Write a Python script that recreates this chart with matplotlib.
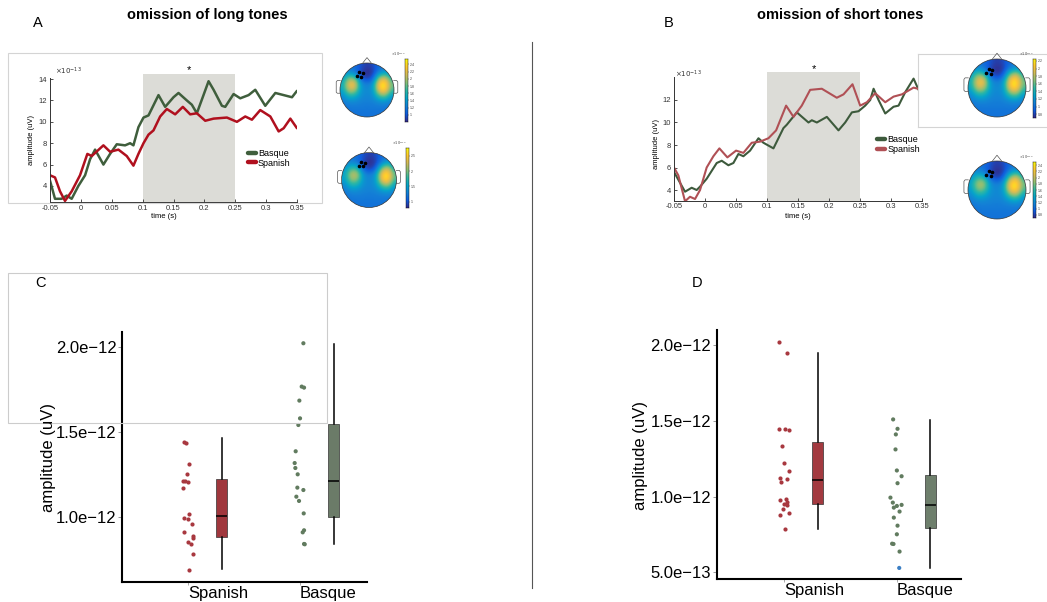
import matplotlib
matplotlib.use("Agg")
import matplotlib.pyplot as plt
import numpy as np
from matplotlib.colors import LinearSegmentedColormap
from matplotlib.patches import Circle, Rectangle
from matplotlib.lines import Line2D

plt.rcParams['font.family'] = ['Liberation Sans', 'DejaVu Sans']
plt.rcParams['mathtext.fontset'] = 'dejavusans'

W, H = 1047, 602

# ---- ERP waveforms (x10^-13) ----
A_BASQUE_T = [-0.05, -0.0419, -0.0311, -0.023, -0.0149, -0.0041, 0.0068, 0.0149, 0.023, 0.0365,
              0.0473, 0.0581, 0.0716, 0.0797, 0.0851, 0.0932, 0.1014, 0.1095, 0.1257, 0.1365,
              0.15, 0.1581, 0.1716, 0.1797, 0.1878, 0.1986, 0.2068, 0.2149, 0.2284, 0.2338,
              0.2473, 0.2581, 0.2716, 0.2824, 0.2986, 0.3149, 0.3284, 0.3419, 0.35]
A_BASQUE_V = [4.5, 2.8, 2.8, 3.1, 2.8, 4.0, 5.0, 6.5, 7.4, 6.0,
              7.0, 7.9, 7.8, 8.0, 7.8, 9.5, 10.4, 10.6, 12.5, 11.4,
              12.3, 12.7, 12.0, 11.6, 10.8, 12.5, 13.8, 13.0, 11.5, 11.4,
              12.6, 12.2, 12.5, 13.0, 11.5, 12.7, 12.5, 12.3, 12.9]
A_SPANISH_T = [-0.05, -0.0419, -0.0338, -0.0257, -0.0149, -0.0014, 0.0105, 0.0176, 0.0365, 0.0473,
               0.0608, 0.0743, 0.0851, 0.0932, 0.1014, 0.1095, 0.1176, 0.1284, 0.1392, 0.1527,
               0.1651, 0.177, 0.1878, 0.2014, 0.2149, 0.2365, 0.2527, 0.2662, 0.277, 0.2905,
               0.3068, 0.3203, 0.3284, 0.3392, 0.35]
A_SPANISH_V = [5.0, 4.8, 3.5, 2.6, 3.5, 5.0, 7.0, 6.8, 7.8, 7.2,
               7.4, 6.8, 5.9, 7.0, 8.0, 8.8, 9.2, 10.5, 11.2, 10.7,
               11.4, 10.7, 10.8, 10.1, 10.3, 10.4, 10.0, 10.5, 10.2, 11.1,
               10.5, 9.1, 9.4, 10.3, 9.4]

B_BASQUE_T = [-0.05, -0.0322, -0.0215, -0.0134, -0.008, 0.0027, 0.0189, 0.027, 0.0377, 0.0458,
              0.0539, 0.0619, 0.0727, 0.0862, 0.0942, 0.1104, 0.1265, 0.1319, 0.1481, 0.1669,
              0.1723, 0.1804, 0.1965, 0.2153, 0.2261, 0.2369, 0.2476, 0.2584, 0.2665, 0.2719,
              0.2799, 0.2907, 0.3041, 0.3122, 0.323, 0.3364, 0.3445, 0.35]
B_BASQUE_V = [5.6, 3.85, 4.2, 4.0, 4.3, 5.0, 6.4, 6.6, 6.2, 6.4,
              7.2, 7.0, 7.5, 8.6, 8.2, 7.7, 9.5, 9.8, 10.9, 10.0,
              10.2, 10.0, 10.5, 9.3, 10.0, 10.9, 11.0, 11.5, 12.0, 13.0,
              12.0, 10.8, 11.4, 11.5, 12.7, 13.9, 12.9, 12.6]
B_SPANISH_T = [-0.05, -0.043, -0.0322, -0.0242, -0.0161, -0.008, 0.0027, 0.0135, 0.0232, 0.0361,
               0.0501, 0.0619, 0.0754, 0.0889, 0.1023, 0.1147, 0.1308, 0.1427, 0.1561, 0.1696,
               0.1884, 0.2126, 0.2234, 0.2379, 0.2503, 0.2611, 0.2745, 0.2907, 0.3041, 0.3176,
               0.3364, 0.35]
B_SPANISH_V = [6.0, 5.3, 3.0, 3.4, 3.2, 4.0, 6.0, 7.0, 7.7, 6.9,
               7.5, 7.3, 8.2, 8.3, 8.6, 9.3, 11.5, 10.5, 11.5, 12.9,
               13.0, 12.2, 12.5, 13.4, 11.5, 11.8, 12.6, 11.8, 12.3, 12.5,
               13.1, 12.9]

# ---- individual amplitudes (x1e-12) and jitter ----
C_SPANISH = [1.439, 1.435, 1.314, 1.254, 1.215, 1.211, 1.209, 1.170, 1.021, 0.994,
             0.990, 0.959, 0.916, 0.893, 0.881, 0.854, 0.844, 0.783, 0.693]
C_SPANISH_JIT = [-0.036, -0.024, 0.003, -0.012, -0.045, -0.027, 0.0, -0.045, 0.006, -0.036,
                 -0.006, 0.033, -0.036, 0.045, 0.042, 0.0, 0.021, 0.045, 0.003]
C_BASQUE = [2.02, 1.766, 1.760, 1.684, 1.580, 1.541, 1.387, 1.318, 1.289, 1.252,
            1.174, 1.160, 1.121, 1.096, 1.023, 0.924, 0.912, 0.844, 0.842]
C_BASQUE_JIT = [0.03, 0.015, 0.036, -0.006, 0.0, -0.015, -0.039, -0.048, -0.042, -0.021,
                -0.024, 0.03, -0.033, -0.009, 0.033, 0.036, 0.024, 0.036, 0.042]
D_SPANISH = [2.022, 1.949, 1.445, 1.445, 1.441, 1.333, 1.220, 1.167, 1.123, 1.117,
             1.097, 0.985, 0.974, 0.963, 0.954, 0.943, 0.916, 0.894, 0.879, 0.786]
D_SPANISH_JIT = [-0.048, 0.024, -0.042, 0.009, 0.045, -0.018, 0.0, 0.042, -0.036, 0.03,
                 -0.027, 0.015, -0.036, 0.03, 0.0, 0.024, -0.006, 0.042, -0.036, 0.009]
D_BASQUE = [1.509, 1.447, 1.410, 1.311, 1.172, 1.134, 1.088, 0.993, 0.960, 0.945,
            0.938, 0.927, 0.901, 0.861, 0.808, 0.751, 0.689, 0.687, 0.637, 0.529]
D_BASQUE_JIT = [-0.03, 0.009, -0.006, -0.009, 0.003, 0.045, 0.009, -0.054, -0.033, 0.045,
                0.003, -0.024, 0.027, -0.024, 0.009, 0.003, -0.039, -0.027, 0.027, 0.024]

# box stats (whislo, q1, med, q3, whishi), x1e-12
C_SPANISH_BOX = [0.695, 0.887, 1.008, 1.223, 1.463]
C_BASQUE_BOX = [0.844, 1.000, 1.213, 1.549, 2.016]
D_SPANISH_BOX = [0.786, 0.954, 1.106, 1.357, 1.949]
D_BASQUE_BOX = [0.529, 0.793, 0.941, 1.145, 1.504]

GROUPS = ["Spanish", "Basque"]

# ---- topographies: relative level of the colour range (0 = bottom, 1 = top),
# 9x9 grid, rows front -> back, columns left -> right ----
TOPO_A1 = [[.20, .20, .18, .10, .04, .08, .18, .20, .20],
           [.24, .30, .22, .05, .00, .03, .25, .35, .25],
           [.35, .62, .58, .12, .03, .12, .65, .80, .45],
           [.42, .86, .86, .32, .24, .32, .92, 1.0, .60],
           [.38, .74, .70, .32, .27, .32, .85, .95, .52],
           [.28, .45, .42, .29, .27, .29, .52, .60, .35],
           [.22, .27, .27, .25, .24, .25, .28, .30, .24],
           [.20, .21, .22, .22, .22, .22, .22, .21, .20],
           [.20, .20, .20, .20, .20, .20, .20, .20, .20]]
TOPO_A2 = [[.20, .20, .18, .10, .04, .08, .18, .20, .20],
           [.23, .27, .22, .05, .00, .03, .24, .35, .25],
           [.32, .52, .48, .12, .03, .12, .60, .78, .42],
           [.38, .75, .75, .30, .24, .32, .90, 1.0, .58],
           [.34, .64, .60, .30, .27, .32, .82, .95, .50],
           [.26, .40, .38, .28, .27, .29, .48, .58, .33],
           [.21, .26, .26, .25, .24, .25, .27, .30, .24],
           [.20, .21, .22, .22, .22, .22, .22, .21, .20],
           [.20, .20, .20, .20, .20, .20, .20, .20, .20]]
TOPO_B1 = [[.20, .20, .18, .10, .04, .08, .18, .20, .20],
           [.24, .30, .22, .05, .00, .03, .25, .35, .25],
           [.36, .65, .60, .12, .03, .12, .65, .82, .45],
           [.42, .88, .86, .32, .24, .32, .92, 1.0, .60],
           [.38, .76, .72, .32, .27, .32, .86, .96, .52],
           [.28, .46, .44, .29, .27, .29, .54, .62, .35],
           [.22, .27, .27, .25, .24, .25, .28, .30, .24],
           [.20, .21, .22, .22, .22, .22, .22, .21, .20],
           [.20, .20, .20, .20, .20, .20, .20, .20, .20]]
TOPO_B2 = [[.20, .20, .18, .10, .04, .08, .18, .20, .20],
           [.23, .26, .21, .05, .00, .03, .24, .35, .25],
           [.31, .50, .46, .12, .03, .12, .62, .80, .44],
           [.37, .72, .72, .30, .24, .32, .92, 1.0, .60],
           [.33, .62, .58, .30, .27, .32, .85, .96, .52],
           [.26, .38, .36, .28, .27, .29, .50, .60, .34],
           [.21, .25, .25, .25, .24, .25, .27, .30, .24],
           [.20, .21, .22, .22, .22, .22, .22, .21, .20],
           [.20, .20, .20, .20, .20, .20, .20, .20, .20]]
ELECTRODES_X = [-0.28, -0.16, -0.37, -0.21]
ELECTRODES_Y = [0.67, 0.63, 0.52, 0.50]

PARULA = LinearSegmentedColormap.from_list(
    "parula", ['#352a87', '#0f5cdd', '#1481d6', '#06a4ca', '#2eb7a4',
               '#87bf77', '#d1bb59', '#fec832', '#f9fb0e'])

fig = plt.figure(figsize=(W / 100, H / 100), dpi=100)


def px_axes(l, t, r, b, **kw):
    return fig.add_axes([l / W, 1 - b / H, (r - l) / W, (b - t) / H], **kw)


def fig_text(x, y, s, **kw):
    fig.text(x / W, 1 - y / H, s, **kw)


def fig_rect(l, t, r, b, **kw):
    fig.patches.append(Rectangle((l / W, 1 - b / H), (r - l) / W, (b - t) / H,
                                 transform=fig.transFigure, figure=fig, **kw))


def erp_panel(ax, series, ylim, yticks, ylab_xy, xlab_xy, exp_xy, star_y, leg_xy):
    ax.axvspan(0.1, 0.25, ymin=0, ymax=1.035, color='#dcdcd7', lw=0, clip_on=False, zorder=0)
    for t, v, c, lw, lab in series:
        ax.plot(t, v, color=c, lw=lw, label=lab, solid_capstyle='round', solid_joinstyle='round')
    ax.set_xlim(-0.05, 0.35)
    ax.set_ylim(*ylim)
    ax.set_xticks(np.arange(-0.05, 0.351, 0.05))
    ax.set_xticklabels(['-0.05', '0', '0.05', '0.1', '0.15', '0.2', '0.25', '0.3', '0.35'])
    ax.set_yticks(yticks)
    ax.tick_params(direction='in', length=2.5, width=0.6, labelsize=5.5, colors='#333333', pad=2)
    for s in ('top', 'right'):
        ax.spines[s].set_visible(False)
    for s in ('left', 'bottom'):
        ax.spines[s].set_color('#333333')
        ax.spines[s].set_linewidth(0.7)
    ax.set_facecolor('none')
    ax.set_ylabel('amplitude (uV)', fontsize=5.5)
    ax.yaxis.set_label_coords(*ylab_xy)
    ax.set_xlabel('time (s)', fontsize=5.5)
    ax.xaxis.set_label_coords(*xlab_xy)
    ax.text(exp_xy[0], exp_xy[1], r'$\times10^{-13}$', transform=ax.transAxes,
            fontsize=5, color='#333333', va='center')
    ax.text(0.175, star_y, '*', transform=ax.get_xaxis_transform(), ha='center',
            va='center', fontsize=8)
    leg = ax.legend(loc='upper left', bbox_to_anchor=leg_xy, frameon=False, fontsize=6.5,
                    handlelength=0.9, handletextpad=0.25, labelspacing=0.1,
                    borderpad=0, borderaxespad=0)
    for ln in leg.get_lines():
        ln.set_linewidth(3.2)


def topo(cx, cy, r, grid, cb, cb_lim, cb_ticks):
    ax = px_axes(cx - 1.25 * r, cy - 1.25 * r, cx + 1.25 * r, cy + 1.25 * r, zorder=3)
    ax.set_xlim(-1.25, 1.25)
    ax.set_ylim(-1.25, 1.25)
    ax.set_aspect('equal')
    ax.axis('off')
    im = ax.imshow(np.array(grid), extent=[-1, 1, -1, 1], cmap=PARULA, vmin=0, vmax=1,
                   interpolation='bicubic', origin='upper')
    im.set_clip_path(Circle((0, 0), 1.0, transform=ax.transData))
    ax.add_patch(Circle((0, 0), 1.0, fill=False, ec='#333333', lw=0.5))
    ax.plot([-0.17, 0, 0.17], [0.985, 1.2, 0.985], color='#555555', lw=0.5)
    for sgn in (-1, 1):
        ax.plot([sgn * 0.99, sgn * 1.1, sgn * 1.14, sgn * 1.14, sgn * 1.1, sgn * 0.99],
                [0.35, 0.35, 0.3, -0.08, -0.12, -0.12], color='#555555', lw=0.5)
    ax.scatter(ELECTRODES_X, ELECTRODES_Y, s=2.5, color='black', zorder=4)
    vmin, vmax = cb_lim
    cax = px_axes(*cb, zorder=3)
    grad = np.linspace(vmin, vmax, 256)[:, None]
    cax.imshow(grad, extent=[0, 1, vmin, vmax], cmap=PARULA, vmin=vmin, vmax=vmax,
               aspect='auto', origin='lower')
    cax.set_xticks([])
    cax.yaxis.tick_right()
    cax.set_yticks(cb_ticks)
    cax.set_yticklabels([f'{v:g}' for v in cb_ticks])
    cax.tick_params(labelsize=2.5, length=1, width=0.3, pad=0.5, colors='#444444')
    for s in cax.spines.values():
        s.set_linewidth(0.3)
    cax.text(0, 1.02, r'$\times10^{-13}$', transform=cax.transAxes, fontsize=2.5,
             ha='right', va='bottom', color='#444444')


def box_panel(ax, left, right, jit_l, jit_r, box_l, box_r, ylim, yticks, colors):
    dot_l, dot_r, fill_l, fill_r = colors
    ax.scatter(1 + np.array(jit_l), np.array(left) * 1e-12, s=9, color=dot_l, lw=0, zorder=3)
    rc = [dot_r] * len(right)
    if len(right) == 20:
        rc[-1] = '#3b7fc4'
    ax.scatter(2 + np.array(jit_r), np.array(right) * 1e-12, s=9, c=rc, lw=0, zorder=3)
    stats = []
    for b, lab in ((box_l, GROUPS[0]), (box_r, GROUPS[1])):
        stats.append(dict(whislo=b[0] * 1e-12, q1=b[1] * 1e-12, med=b[2] * 1e-12,
                          q3=b[3] * 1e-12, whishi=b[4] * 1e-12, fliers=[], label=lab))
    bp = ax.bxp(stats, positions=[1.3, 2.3], widths=0.1, patch_artist=True, showcaps=False,
                boxprops=dict(lw=0.5, ec='#333333'),
                whiskerprops=dict(lw=1.1, color='black'),
                medianprops=dict(lw=1.1, color='black'))
    bp['boxes'][0].set_facecolor(fill_l)
    bp['boxes'][1].set_facecolor(fill_r)
    ax.set_xlim(0.405, 2.6)
    ax.set_ylim(*ylim)
    ax.set_xticks([1, 2])
    ax.set_xticklabels(GROUPS, ha='left', fontsize=12)
    ax.set_yticks(yticks)
    ax.set_yticklabels([f'{v:.1e}'.replace('-', '\u2212') for v in yticks], fontsize=12)
    ax.tick_params(axis='y', length=3, width=0.6, color='#888888', pad=1)
    ax.tick_params(axis='x', length=2, width=0.5, color='#888888', pad=1)
    for s in ('top', 'right'):
        ax.spines[s].set_visible(False)
    for s in ('left', 'bottom'):
        ax.spines[s].set_linewidth(1.5)
    ax.set_facecolor('none')


# ---- panel A ----
fig_rect(8, 53, 322, 203, fill=False, ec='#d4d4d4', lw=0.8)
axA = px_axes(50, 78, 297, 202)
erp_panel(axA, [(A_BASQUE_T, A_BASQUE_V, '#3f5e3c', 1.8, 'Basque'),
                (A_SPANISH_T, A_SPANISH_V, '#b0101e', 1.8, 'Spanish')],
          (2.5, 14.1), [4, 6, 8, 10, 12, 14], (-0.06, 0.5), (0.46, -0.09), (0.02, 1.05),
          1.065, (0.80, 0.43))
topo(367, 90, 27, TOPO_A1, (405, 59, 408, 122), (0.8, 2.55), [1, 1.2, 1.4, 1.6, 1.8, 2, 2.2, 2.4])
topo(369, 180, 27.5, TOPO_A2, (406, 148, 409, 208), (0.8, 2.75), [1, 1.5, 2, 2.5])

# ---- panel B ----
axB = px_axes(674, 76.7, 922, 200.7)
erp_panel(axB, [(B_BASQUE_T, B_BASQUE_V, '#3d5a3c', 1.5, 'Basque'),
                (B_SPANISH_T, B_SPANISH_V, '#b05055', 1.5, 'Spanish')],
          (3.05, 14.07), [4, 6, 8, 10, 12], (-0.056, 0.46), (0.5, -0.1), (0.005, 1.02),
          1.06, (0.82, 0.53))
boxB = px_axes(918, 54, 1050, 127, zorder=2)
boxB.set_xticks([])
boxB.set_yticks([])
for s in boxB.spines.values():
    s.set_color('#d4d4d4')
    s.set_linewidth(0.8)
topo(997, 88, 29, TOPO_B1, (1033, 59, 1036, 118), (0.7, 2.25), [0.8, 1, 1.2, 1.4, 1.6, 1.8, 2, 2.2])
topo(997, 190, 29, TOPO_B2, (1033, 162, 1036, 218), (0.7, 2.5), [0.8, 1, 1.2, 1.4, 1.6, 1.8, 2, 2.2, 2.4])

# ---- panel C ----
axC = px_axes(122, 332, 367, 582)
box_panel(axC, C_SPANISH, C_BASQUE, C_SPANISH_JIT, C_BASQUE_JIT, C_SPANISH_BOX, C_BASQUE_BOX,
          (0.621e-12, 2.086e-12), [1.0e-12, 1.5e-12, 2.0e-12],
          ('#a8383f', '#617b5f', '#a0373d', '#6b7b68'))
fig_rect(8, 273, 327, 423, fill=False, ec='#cccccc', lw=0.8)

# ---- panel D ----
axD = px_axes(716.7, 330, 960.7, 579.3)
box_panel(axD, D_SPANISH, D_BASQUE, D_SPANISH_JIT, D_BASQUE_JIT, D_SPANISH_BOX, D_BASQUE_BOX,
          (0.454e-12, 2.099e-12), [0.5e-12, 1.0e-12, 1.5e-12, 2.0e-12],
          ('#a8383f', '#617b5f', '#a33a40', '#6e7f6c'))
axD.set_xlim(0.403, 2.57)

fig_text(49, 458, 'amplitude (uV)', rotation=90, ha='center', va='center', fontsize=12)
fig_text(641, 456, 'amplitude (uV)', rotation=90, ha='center', va='center', fontsize=12)

# divider and labels
fig.lines.append(Line2D([532 / W, 532 / W], [1 - 42 / H, 1 - 588 / H], transform=fig.transFigure,
                        color='#555555', lw=0.8))
fig_text(38, 23, 'A', fontsize=10.5, ha='center', va='center')
fig_text(669, 23, 'B', fontsize=10.5, ha='center', va='center')
fig_text(40, 283, 'C', fontsize=10.5, ha='center', va='center')
fig_text(697, 283, 'D', fontsize=10.5, ha='center', va='center')
fig_text(207, 15, 'omission of long tones', fontsize=10.5, fontweight='bold', ha='center', va='center')
fig_text(840, 15, 'omission of short tones', fontsize=10.5, fontweight='bold', ha='center', va='center')

fig.savefig('out.png', dpi=100)
